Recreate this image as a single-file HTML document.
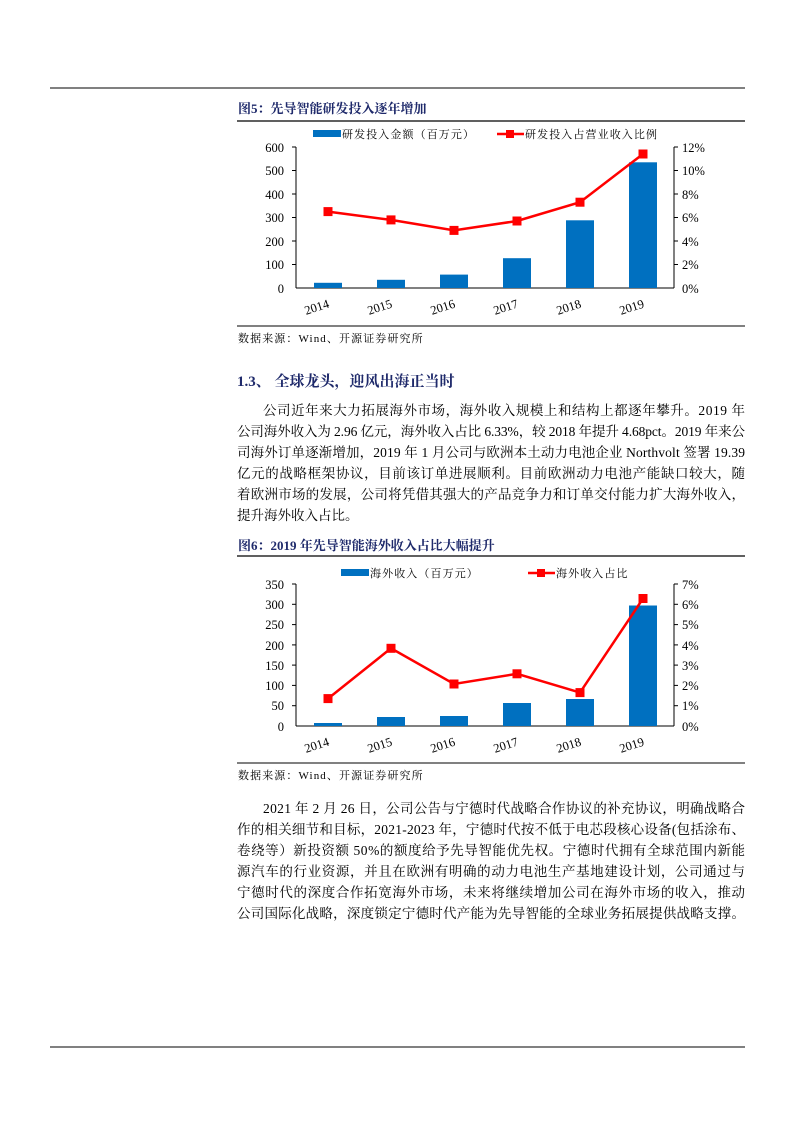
<!DOCTYPE html>
<html><head><meta charset="utf-8"><style>
html,body{margin:0;padding:0;background:#fff;}
svg{display:block;font-family:"Liberation Serif","Noto Serif CJK SC",serif;}
.t{font-size:13.5px;fill:#000;}
.ax{font-size:12.5px;fill:#000;}
.lg{font-size:11px;fill:#000;letter-spacing:1.1px;}
.ti{font-size:13px;font-weight:bold;fill:#1f2a6b;}
</style></head><body>
<svg width="793" height="1122" viewBox="0 0 793 1122">
<line x1="50" y1="88" x2="745" y2="88" stroke="#000" stroke-width="1"/>
<line x1="50" y1="1047" x2="745" y2="1047" stroke="#000" stroke-width="1"/>

<text class="ti" x="238" y="113">图5：先导智能研发投入逐年增加</text>
<line x1="237" y1="121" x2="745" y2="121" stroke="#000" stroke-width="1.2"/>
<rect x="313" y="130" width="28" height="7" fill="#0070c0"/>
<text class="lg" x="342" y="138">研发投入金额（百万元）</text>
<line x1="497" y1="134" x2="524" y2="134" stroke="#f00" stroke-width="2.5"/>
<rect x="506" y="130" width="8" height="8" fill="#f00"/>
<text class="lg" x="525" y="138">研发投入占营业收入比例</text>
<g stroke="#000" stroke-width="1">
<line x1="296" y1="147" x2="296" y2="288"/><line x1="674" y1="147" x2="674" y2="288"/>
<line x1="296" y1="288" x2="674" y2="288"/>
<line x1="292" y1="147" x2="296" y2="147"/><line x1="292" y1="170.5" x2="296" y2="170.5"/><line x1="292" y1="194" x2="296" y2="194"/><line x1="292" y1="217.5" x2="296" y2="217.5"/><line x1="292" y1="241" x2="296" y2="241"/><line x1="292" y1="264.5" x2="296" y2="264.5"/>
<line x1="674" y1="147" x2="678" y2="147"/><line x1="674" y1="170.5" x2="678" y2="170.5"/><line x1="674" y1="194" x2="678" y2="194"/><line x1="674" y1="217.5" x2="678" y2="217.5"/><line x1="674" y1="241" x2="678" y2="241"/><line x1="674" y1="264.5" x2="678" y2="264.5"/>
</g>
<g class="ax" text-anchor="end">
<text x="284" y="152">600</text><text x="284" y="175">500</text><text x="284" y="199">400</text><text x="284" y="222">300</text><text x="284" y="246">200</text><text x="284" y="269">100</text><text x="284" y="293">0</text>
</g>
<g class="ax">
<text x="682" y="152">12%</text><text x="682" y="175">10%</text><text x="682" y="199">8%</text><text x="682" y="222">6%</text><text x="682" y="246">4%</text><text x="682" y="269">2%</text><text x="682" y="293">0%</text>
</g>
<g fill="#0070c0">
<rect x="314" y="282.8" width="28" height="5.2"/>
<rect x="377" y="279.8" width="28" height="8.2"/>
<rect x="440" y="274.6" width="28" height="13.4"/>
<rect x="503" y="258.2" width="28" height="29.8"/>
<rect x="566" y="220.3" width="28" height="67.7"/>
<rect x="629" y="162.3" width="28" height="125.7"/>
</g>
<polyline points="328,211.6 391,219.9 454,230.4 517,221 580,202.2 643,154" fill="none" stroke="#f00" stroke-width="2.5"/>
<g fill="#f00">
<rect x="323.5" y="207.1" width="9" height="9"/><rect x="386.5" y="215.4" width="9" height="9"/><rect x="449.5" y="225.9" width="9" height="9"/><rect x="512.5" y="216.5" width="9" height="9"/><rect x="575.5" y="197.7" width="9" height="9"/><rect x="638.5" y="149.5" width="9" height="9"/>
</g>
<g class="ax" text-anchor="middle">
<text transform="translate(318,311) rotate(-18)">2014</text>
<text transform="translate(381,311) rotate(-18)">2015</text>
<text transform="translate(444,311) rotate(-18)">2016</text>
<text transform="translate(507,311) rotate(-18)">2017</text>
<text transform="translate(570,311) rotate(-18)">2018</text>
<text transform="translate(633,311) rotate(-18)">2019</text>
</g>
<line x1="237" y1="326" x2="745" y2="326" stroke="#000" stroke-width="1"/>
<text class="lg" x="238" y="342">数据来源：Wind、开源证券研究所</text>

<text x="237" y="386" style="font-size:15px;font-weight:bold;fill:#1f2a6b">1.3、 全球龙头，迎风出海正当时</text>

<g class="t">
<text x="263" y="415" textLength="482" lengthAdjust="spacing">公司近年来大力拓展海外市场，海外收入规模上和结构上都逐年攀升。2019 年</text>
<text x="237" y="436" textLength="508" lengthAdjust="spacing">公司海外收入为 2.96 亿元，海外收入占比 6.33%，较 2018 年提升 4.68pct。2019 年来公</text>
<text x="237" y="457" textLength="508" lengthAdjust="spacing">司海外订单逐渐增加，2019 年 1 月公司与欧洲本土动力电池企业 Northvolt 签署 19.39</text>
<text x="237" y="478" textLength="508" lengthAdjust="spacing">亿元的战略框架协议，目前该订单进展顺利。目前欧洲动力电池产能缺口较大，随</text>
<text x="237" y="499" textLength="508" lengthAdjust="spacing">着欧洲市场的发展，公司将凭借其强大的产品竞争力和订单交付能力扩大海外收入，</text>
<text x="237" y="520">提升海外收入占比。</text>
</g>

<text class="ti" x="238" y="550">图6：2019 年先导智能海外收入占比大幅提升</text>
<line x1="237" y1="556" x2="745" y2="556" stroke="#000" stroke-width="1.2"/>
<rect x="341" y="569" width="28" height="7" fill="#0070c0"/>
<text class="lg" x="370" y="577">海外收入（百万元）</text>
<line x1="528" y1="573" x2="555" y2="573" stroke="#f00" stroke-width="2.5"/>
<rect x="537" y="569" width="8" height="8" fill="#f00"/>
<text class="lg" x="556" y="577">海外收入占比</text>
<g stroke="#000" stroke-width="1">
<line x1="296" y1="584" x2="296" y2="726"/><line x1="674" y1="584" x2="674" y2="726"/>
<line x1="296" y1="726" x2="674" y2="726"/>
<line x1="292" y1="584" x2="296" y2="584"/><line x1="292" y1="604.3" x2="296" y2="604.3"/><line x1="292" y1="624.6" x2="296" y2="624.6"/><line x1="292" y1="644.9" x2="296" y2="644.9"/><line x1="292" y1="665.1" x2="296" y2="665.1"/><line x1="292" y1="685.4" x2="296" y2="685.4"/><line x1="292" y1="705.7" x2="296" y2="705.7"/>
<line x1="674" y1="584" x2="678" y2="584"/><line x1="674" y1="604.3" x2="678" y2="604.3"/><line x1="674" y1="624.6" x2="678" y2="624.6"/><line x1="674" y1="644.9" x2="678" y2="644.9"/><line x1="674" y1="665.1" x2="678" y2="665.1"/><line x1="674" y1="685.4" x2="678" y2="685.4"/><line x1="674" y1="705.7" x2="678" y2="705.7"/>
</g>
<g class="ax" text-anchor="end">
<text x="284" y="589">350</text><text x="284" y="609">300</text><text x="284" y="629">250</text><text x="284" y="650">200</text><text x="284" y="670">150</text><text x="284" y="690">100</text><text x="284" y="710">50</text><text x="284" y="731">0</text>
</g>
<g class="ax">
<text x="682" y="589">7%</text><text x="682" y="609">6%</text><text x="682" y="629">5%</text><text x="682" y="650">4%</text><text x="682" y="670">3%</text><text x="682" y="690">2%</text><text x="682" y="710">1%</text><text x="682" y="731">0%</text>
</g>
<g fill="#0070c0">
<rect x="314" y="723" width="28" height="3"/>
<rect x="377" y="717" width="28" height="9"/>
<rect x="440" y="716" width="28" height="10"/>
<rect x="503" y="703" width="28" height="23"/>
<rect x="566" y="699" width="28" height="27"/>
<rect x="629" y="605.5" width="28" height="120.5"/>
</g>
<polyline points="328,698.6 391,648.3 454,684 517,673.8 580,692.6 643,598.5" fill="none" stroke="#f00" stroke-width="2.5"/>
<g fill="#f00">
<rect x="323.5" y="694.1" width="9" height="9"/><rect x="386.5" y="643.8" width="9" height="9"/><rect x="449.5" y="679.5" width="9" height="9"/><rect x="512.5" y="669.3" width="9" height="9"/><rect x="575.5" y="688.1" width="9" height="9"/><rect x="638.5" y="594" width="9" height="9"/>
</g>
<g class="ax" text-anchor="middle">
<text transform="translate(318,749) rotate(-18)">2014</text>
<text transform="translate(381,749) rotate(-18)">2015</text>
<text transform="translate(444,749) rotate(-18)">2016</text>
<text transform="translate(507,749) rotate(-18)">2017</text>
<text transform="translate(570,749) rotate(-18)">2018</text>
<text transform="translate(633,749) rotate(-18)">2019</text>
</g>
<line x1="237" y1="763" x2="745" y2="763" stroke="#000" stroke-width="1"/>
<text class="lg" x="238" y="779">数据来源：Wind、开源证券研究所</text>

<g class="t">
<text x="263" y="813" textLength="482" lengthAdjust="spacing">2021 年 2 月 26 日，公司公告与宁德时代战略合作协议的补充协议，明确战略合</text>
<text x="237" y="834" textLength="508" lengthAdjust="spacing">作的相关细节和目标，2021-2023 年，宁德时代按不低于电芯段核心设备(包括涂布、</text>
<text x="237" y="855" textLength="508" lengthAdjust="spacing">卷绕等）新投资额 50%的额度给予先导智能优先权。宁德时代拥有全球范围内新能</text>
<text x="237" y="876" textLength="508" lengthAdjust="spacing">源汽车的行业资源，并且在欧洲有明确的动力电池生产基地建设计划，公司通过与</text>
<text x="237" y="897" textLength="508" lengthAdjust="spacing">宁德时代的深度合作拓宽海外市场，未来将继续增加公司在海外市场的收入，推动</text>
<text x="237" y="918" textLength="508" lengthAdjust="spacing">公司国际化战略，深度锁定宁德时代产能为先导智能的全球业务拓展提供战略支撑。</text>
</g>
</svg>
</body></html>
